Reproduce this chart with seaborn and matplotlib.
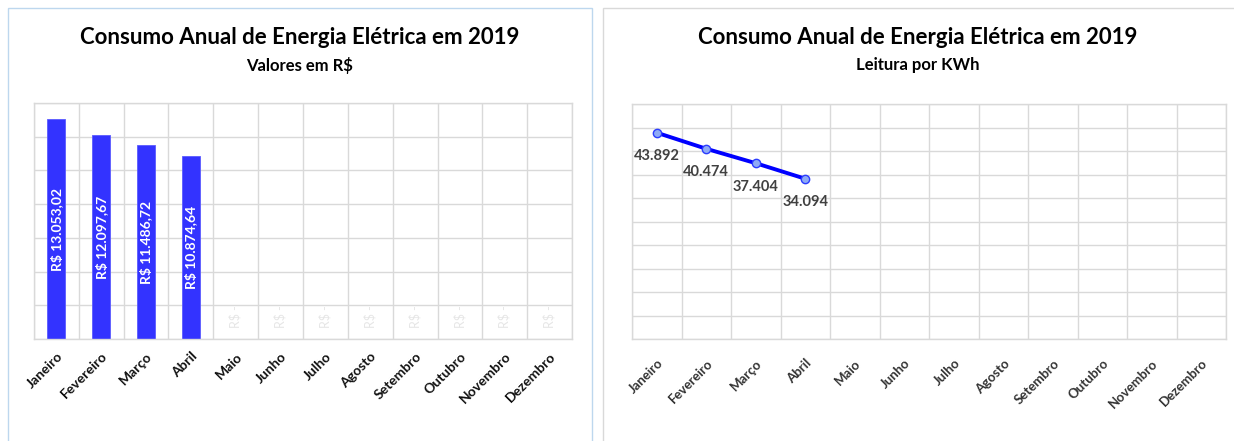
import matplotlib
matplotlib.use("Agg")
import matplotlib.pyplot as plt
from matplotlib.patches import Rectangle
from matplotlib.ticker import MultipleLocator, FixedLocator, NullFormatter
import seaborn as sns
import pandas as pd

# ---- data ----
months = ["Janeiro", "Fevereiro", "Março", "Abril", "Maio", "Junho", "Julho",
          "Agosto", "Setembro", "Outubro", "Novembro", "Dezembro"]
valores_rs = [13053.02, 12097.67, 11486.72, 10874.64, 0, 0, 0, 0, 0, 0, 0, 0]
valores_labels = ["R$ 13.053,02", "R$ 12.097,67", "R$ 11.486,72", "R$ 10.874,64"]
leitura_kwh = [43892, 40474, 37404, 34094]
kwh_labels = ["43.892", "40.474", "37.404", "34.094"]

title = "Consumo Anual de Energia Elétrica em 2019"
sub_left = "Valores em R$"
sub_right = "Leitura por KWh"

sns.set_theme(style="white")
plt.rcParams["font.family"] = ["Lato", "DejaVu Sans"]

W, H = 1234, 441
fig = plt.figure(figsize=(W / 100, H / 100), dpi=100)
fig.patch.set_facecolor("white")

def fx(px):
    return px / W

def fy(py):
    return 1 - py / H

# panel borders
fig.patches.append(Rectangle((fx(8), fy(445)), fx(592 - 8), (445 - 8) / H,
                             transform=fig.transFigure, fill=False,
                             edgecolor="#bdd7ee", linewidth=1.0))
fig.patches.append(Rectangle((fx(603), fy(445)), fx(1240 - 603), (445 - 8) / H,
                             transform=fig.transFigure, fill=False,
                             edgecolor="#d9d9d9", linewidth=1.0))

grid_c = "#d9d9d9"

def style_axes(ax, weight, color, size, pad):
    for s in ax.spines.values():
        s.set_color(grid_c)
        s.set_linewidth(1.0)
    ax.tick_params(axis="both", length=0)
    ax.set_xlabel("")
    ax.set_ylabel("")
    ax.yaxis.set_major_formatter(NullFormatter())
    ax.xaxis.set_minor_locator(FixedLocator([i + 0.5 for i in range(-1, len(months))]))
    ax.grid(True, which="minor", axis="x", color=grid_c, linewidth=1.0)
    ax.grid(True, which="major", axis="y", color=grid_c, linewidth=1.0)
    ax.grid(False, which="major", axis="x")
    ax.set_axisbelow(True)
    ax.set_xticks(range(len(months)))
    ax.set_xticklabels(months, rotation=45, ha="right", rotation_mode="anchor",
                       fontsize=size, fontweight=weight, color=color)
    ax.tick_params(axis="x", pad=pad)

# ---- left: bar chart ----
axL = fig.add_axes([fx(34), fy(339), fx(572 - 34), (339 - 103) / H])
df = pd.DataFrame({"mes": months, "valor": valores_rs})
sns.barplot(data=df, x="mes", y="valor", color="#3333ff", saturation=1,
            width=0.4, ax=axL, edgecolor="#5b5bff", linewidth=0.6)
axL.set_ylim(0, 14000)
axL.yaxis.set_major_locator(MultipleLocator(2000))
axL.set_xlim(-0.5, len(months) - 0.5)
style_axes(axL, "bold", "#111111", 10, 8)
for i, v in enumerate(valores_rs):
    if i < len(valores_labels) and v > 0:
        axL.text(i, v / 2, valores_labels[i], rotation=90, ha="center", va="center",
                 color="white", fontsize=10, fontweight="bold")
    else:
        axL.annotate("R$ -", xy=(i, 0), xytext=(0, 16), textcoords="offset points",
                     rotation=90, ha="center", va="center", color="#e6e6e6",
                     fontsize=9)
fig.text(fx(300), fy(37), title, ha="center", va="center", fontsize=16,
         fontweight="bold", color="black")
fig.text(fx(300), fy(65), sub_left, ha="center", va="center", fontsize=12,
         fontweight="bold", color="black")

# ---- right: line chart ----
axR = fig.add_axes([fx(632), fy(339), fx(1226 - 632), (339 - 104) / H])
dfk = pd.DataFrame({"idx": list(range(len(leitura_kwh))), "kwh": leitura_kwh})
sns.lineplot(data=dfk, x="idx", y="kwh", color="#0000ff", linewidth=2.8,
             marker="o", markersize=6, markerfacecolor="#8eaaf5",
             markeredgecolor="#2b3cff", markeredgewidth=1.0, ax=axR)
axR.set_ylim(0, 50000)
axR.yaxis.set_major_locator(MultipleLocator(5000))
axR.set_xlim(-0.5, len(months) - 0.5)
style_axes(axR, "bold", "#333333", 9.5, 13)
for i, v in enumerate(leitura_kwh):
    axR.annotate(kwh_labels[i], xy=(i, v), xytext=(0, -17), textcoords="offset points",
                 ha="center", va="center", fontsize=10.5, fontweight="bold",
                 color="#404040")
fig.text(fx(918), fy(37), title, ha="center", va="center", fontsize=16,
         fontweight="bold", color="black")
fig.text(fx(918), fy(65), sub_right, ha="center", va="center", fontsize=12,
         fontweight="bold", color="black")

fig.savefig("out.png", dpi=100, facecolor="white")
